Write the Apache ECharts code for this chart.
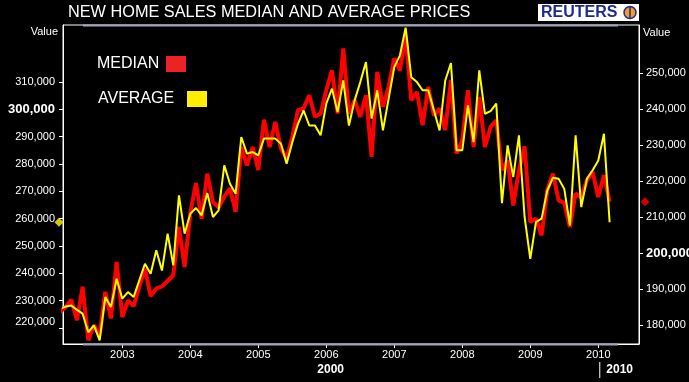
<!DOCTYPE html>
<html><head><meta charset="utf-8">
<script src="https://cdn.jsdelivr.net/npm/echarts@6/dist/echarts.min.js"></script>
<style>html,body{margin:0;padding:0;background:#000;}#c{width:689px;height:382px;}</style>
</head><body><div id="c"></div>
<script>
const titleText = 'NEW HOME SALES MEDIAN AND AVERAGE PRICES';
const legendNames = ['MEDIAN', 'AVERAGE'];
const months = [
  '2002-02','2002-03','2002-04','2002-05','2002-06','2002-07','2002-08','2002-09','2002-10','2002-11','2002-12',
  '2003-01','2003-02','2003-03','2003-04','2003-05','2003-06','2003-07','2003-08','2003-09','2003-10','2003-11','2003-12',
  '2004-01','2004-02','2004-03','2004-04','2004-05','2004-06','2004-07','2004-08','2004-09','2004-10','2004-11','2004-12',
  '2005-01','2005-02','2005-03','2005-04','2005-05','2005-06','2005-07','2005-08','2005-09','2005-10','2005-11','2005-12',
  '2006-01','2006-02','2006-03','2006-04','2006-05','2006-06','2006-07','2006-08','2006-09','2006-10','2006-11','2006-12',
  '2007-01','2007-02','2007-03','2007-04','2007-05','2007-06','2007-07','2007-08','2007-09','2007-10','2007-11','2007-12',
  '2008-01','2008-02','2008-03','2008-04','2008-05','2008-06','2008-07','2008-08','2008-09','2008-10','2008-11','2008-12',
  '2009-01','2009-02','2009-03','2009-04','2009-05','2009-06','2009-07','2009-08','2009-09','2009-10','2009-11','2009-12',
  '2010-01','2010-02','2010-03'
];
// Median price (right axis)
const median = [
  183700,185100,187100,181400,190700,175800,180000,177200,189300,181900,197600,
  182300,186900,185300,190700,195700,188100,190200,190800,192300,193900,207300,196200,
  211200,219500,209600,222100,214300,212700,215700,218000,211500,229500,224400,229500,
  223100,237100,229500,236500,229100,226300,232300,239700,240200,243900,237900,238800,
  245300,250800,238800,256900,238800,242500,237900,243900,226800,250400,240700,246200,
  254100,250800,260600,242500,244800,235600,246200,238300,240200,234200,248100,227700,
  231400,245300,229500,243400,229500,235100,236900,223100,225800,213300,223100,229700,
  208700,209600,205000,217500,222100,214700,214000,207300,216600,215600,220300,222600,
  215600,221700,214300
];
// Average price (left axis)
const average = [
  227000,227800,228200,226600,225200,218400,220900,215400,231300,227600,238000,
  230700,233100,231300,237400,243500,239800,248400,241000,254500,242900,268500,254500,
  261800,263900,261200,269400,260600,263000,279500,272800,269100,289900,283800,284400,
  283200,289300,289300,289300,287400,280100,288000,294700,299600,294100,294100,290500,
  302100,307600,299000,310600,294100,303300,310000,317300,296600,307000,292300,303900,
  315500,319800,329900,311800,310000,307000,307000,299600,292300,310600,317000,285000,
  285000,301500,288000,314300,298400,299400,302100,265700,286800,275200,290500,260600,
  245300,258700,260000,270300,275000,274600,270900,257500,290500,264200,274600,277700,
  281300,291100,258700
];
const leftTicks = [220000,230000,240000,250000,260000,270000,280000,290000,300000,310000];
const rightTicks = [180000,190000,200000,210000,220000,230000,240000,250000];
const yearTicks = [2003,2004,2005,2006,2007,2008,2009,2010];
const decadeLabels = ['2000', '2010'];
const axisNameText = 'Value';

const FONT = "'Liberation Sans', Arial, sans-serif";
const toT = s => { const p = s.split('-'); return +p[0] + (+p[1] - 1) / 12; };
const fmt = v => v.toLocaleString('en-US');
const X_MIN = 2002.128, X_MAX = 2010.599;

const legendOf = (name, left, top, color, textW) => ({
  orient: 'horizontal', align: 'right', icon: 'rect', itemWidth: 20, itemHeight: 16, padding: 0,
  left: left, top: top,
  formatter: n => '{t|' + n + '}',
  textStyle: {color: '#fff', fontSize: 16, fontFamily: FONT,
    rich: {t: {color: '#fff', fontSize: 16, fontFamily: FONT, width: textW, align: 'left'}}},
  data: [{name: name, itemStyle: {color: color}}]
});

const chart = echarts.init(document.getElementById('c'), null, {renderer: 'canvas'});
const option = {
  backgroundColor: '#000',
  animation: false,
  title: {
    text: titleText, left: 68, top: 5, padding: 0,
    textStyle: {color: '#fff', fontSize: 16.3, fontWeight: 'normal', fontFamily: FONT}
  },
  legend: [
    legendOf(legendNames[0], 97, 56, '#ee2222', 64),
    legendOf(legendNames[1], 98, 91, '#ffee00', 84)
  ],
  grid: {left: 63, right: 50, top: 25, bottom: 38, outerBoundsMode: 'none', containLabel: false,
    show: true, borderColor: '#fff', borderWidth: 1, backgroundColor: '#000'},
  xAxis: {
    type: 'value', min: X_MIN, max: X_MAX,
    axisLine: {show: true, lineStyle: {color: '#fff'}},
    axisTick: {show: true, customValues: yearTicks, length: 4, lineStyle: {color: '#fff'}},
    axisLabel: {customValues: yearTicks, color: '#fff', fontSize: 11, fontFamily: FONT, margin: 5,
      formatter: v => String(Math.round(v))},
    splitLine: {show: false}
  },
  yAxis: [
    {
      type: 'value', position: 'left', min: 214100, max: 330900,
      axisLine: {show: true, lineStyle: {color: '#fff'}},
      axisTick: {show: true, customValues: leftTicks, length: 4, lineStyle: {color: '#fff'}},
      axisLabel: {customValues: leftTicks, color: '#fff', fontSize: 11, fontFamily: FONT, margin: 8,
        formatter: v => v === 300000 ? '{b|' + fmt(v) + '}' : (v === 220000 ? '{lo|' + fmt(v) + '}' : fmt(v)),
        rich: {b: {fontWeight: 'bold', fontSize: 13, color: '#fff', fontFamily: FONT},
               lo: {fontSize: 11, color: '#fff', fontFamily: FONT, padding: [0, 0, 11, 0]}}},
      splitLine: {show: false}
    },
    {
      type: 'value', position: 'right', min: 174800, max: 263400,
      axisLine: {show: true, lineStyle: {color: '#fff'}},
      axisTick: {show: true, customValues: rightTicks, length: 4, lineStyle: {color: '#fff'}},
      axisLabel: {customValues: rightTicks, color: '#fff', fontSize: 11, fontFamily: FONT, margin: 7,
        formatter: v => v === 200000 ? '{b|' + fmt(v) + '}' : fmt(v),
        rich: {b: {fontWeight: 'bold', fontSize: 13, color: '#fff', fontFamily: FONT}}},
      splitLine: {show: false}
    }
  ],
  series: [
    {
      name: legendNames[0], type: 'line', yAxisIndex: 1, symbol: 'none', z: 2,
      itemStyle: {color: '#ff0000'}, lineStyle: {color: '#ff0000', width: 4},
      data: months.map((m, i) => [toT(m), median[i]])
    },
    {
      name: legendNames[1], type: 'line', yAxisIndex: 0, symbol: 'none', z: 3,
      itemStyle: {color: '#ffff00'}, lineStyle: {color: '#ffff00', width: 2},
      data: months.map((m, i) => [toT(m), average[i]])
    },
    {
      type: 'scatter', yAxisIndex: 0, symbol: 'diamond', symbolSize: 9, symbolOffset: [-4, 0], clip: false, z: 5,
      itemStyle: {color: '#ffff00'}, silent: true,
      data: [[X_MIN, average[average.length - 1]]]
    },
    {
      type: 'scatter', yAxisIndex: 1, symbol: 'diamond', symbolSize: 9, symbolOffset: [6, 0], clip: false, z: 5,
      itemStyle: {color: '#ff0000'}, silent: true,
      data: [[X_MAX, median[median.length - 1]]]
    }
  ]
};
chart.setOption(option);

const gx0 = chart.convertToPixel({xAxisIndex: 0}, X_MIN);
const gx1 = chart.convertToPixel({xAxisIndex: 0}, X_MAX);
const x2010 = chart.convertToPixel({xAxisIndex: 0}, 2010);
const yTop = 25, yBot = 382 - 38;
chart.setOption({
  graphic: [
    {type: 'line', shape: {x1: gx0 + 20, y1: yTop + 0.5, x2: gx1 - 21, y2: yTop + 0.5}, style: {stroke: '#a4a4bc', lineWidth: 2}, z: 10},
    {type: 'line', shape: {x1: gx0 + 20, y1: yBot + 0.5, x2: gx1 - 21, y2: yBot + 0.5}, style: {stroke: '#a4a4bc', lineWidth: 2}, z: 10},
    {type: 'text', x: gx0 - 5, y: 32, style: {text: axisNameText, fill: '#fff', font: '11px ' + FONT, textAlign: 'right', textVerticalAlign: 'middle'}},
    {type: 'text', x: gx1 + 4, y: 33, style: {text: axisNameText, fill: '#fff', font: '11px ' + FONT, textAlign: 'left', textVerticalAlign: 'middle'}},
    {type: 'text', x: (gx0 + x2010) / 2, y: 370, style: {text: decadeLabels[0], fill: '#fff', font: 'bold 12px ' + FONT, textAlign: 'center', textVerticalAlign: 'middle'}},
    {type: 'line', shape: {x1: x2010 + 1.5, y1: 362, x2: x2010 + 1.5, y2: 378}, style: {stroke: '#fff', lineWidth: 1}},
    {type: 'text', x: (x2010 + gx1) / 2 + 1, y: 370, style: {text: decadeLabels[1], fill: '#fff', font: 'bold 12px ' + FONT, textAlign: 'center', textVerticalAlign: 'middle'}},
    {type: 'rect', shape: {x: 538, y: 4, width: 101, height: 17}, style: {fill: '#fff'}},
    {type: 'text', x: 541, y: 13, style: {text: 'REUTERS', fill: '#1d2a8e', font: 'bold 16px ' + FONT, textVerticalAlign: 'middle'}},
    {type: 'circle', shape: {cx: 630, cy: 12.5, r: 6}, style: {fill: '#f39a2b', stroke: '#1d2a8e', lineWidth: 1.5}},
    {type: 'line', shape: {x1: 630, y1: 6.5, x2: 630, y2: 18.5}, style: {stroke: '#1d2a8e', lineWidth: 1.5}}
  ]
});
</script>
</body></html>
